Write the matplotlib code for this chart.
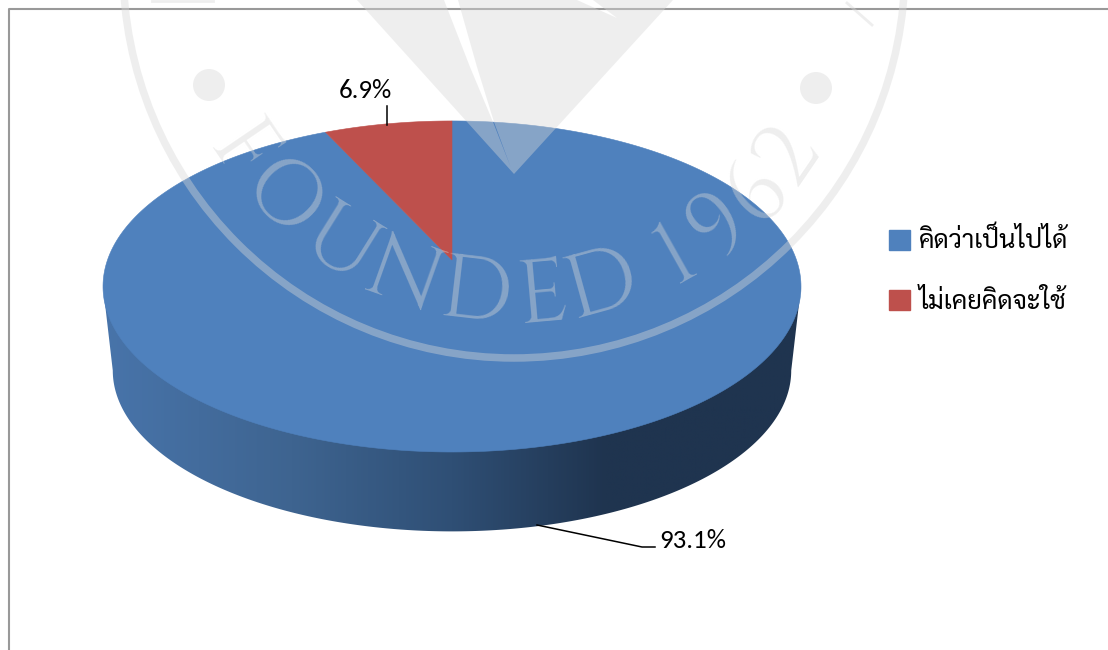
import numpy as np
import matplotlib
matplotlib.use("Agg")
import matplotlib.pyplot as plt
from matplotlib import font_manager as fm
from matplotlib.colors import LinearSegmentedColormap
from matplotlib.patches import Circle, Patch, Polygon

labels = ["คิดว่าเป็นไปได้", "ไม่เคยคิดจะใช้"]
shares = [93.1, 6.9]
colors = ["#4F81BD", "#BE504C"]
seal_letters = list("FOUNDED1962")
seal_turns = [-55.8, -45, -32, -19.6, -6.6, 5.1, 15.4, 29.3, 38.5, 47.4, 55.7]

fig = plt.figure(figsize=(11.08, 6.5), dpi=100)
ax = fig.add_axes([0, 0, 1, 1])
ax.set_xlim(0, 1108)
ax.set_ylim(650, 0)
ax.axis("off")

# Perspective view of the disc: the far half is foreshortened
CX, CY, K, A, B, C = 452, 287, 0.16, 344.5, 165.6, 27
DEPTH, SHRINK = 84, 0.972


def rim(angles, scale=1.0, drop=0.0):
    u, v = np.sin(angles), np.cos(angles)
    x = A * u / (1 + K * v)
    y = -(B * v + C) / (1 + K * v)
    return CX + scale * x, CY + drop + scale * y


# Side wall of the disc with its horizontal shading
widest = np.arccos(-K)
t = np.linspace(widest, 2 * np.pi - widest, 300)
wx, wy = rim(t, SHRINK, DEPTH)
tx, ty = rim(np.array([widest, 2 * np.pi - widest]))
wall = np.column_stack([np.r_[tx[0], wx, tx[1]], np.r_[ty[0], wy, ty[1]]])
shade = LinearSegmentedColormap.from_list(
    "wall", [(0, "#4874AA"), (0.27, "#3E6490"), (0.5, "#2F4F75"),
             (0.72, "#1F344F"), (1, "#1F344F")])
img = ax.imshow(np.linspace(0, 1, 512)[None, :], extent=[104, 801, 540, 280],
                cmap=shade, aspect="auto", zorder=1)
img.set_clip_path(Polygon(wall, closed=True, transform=ax.transData))
ax.set_xlim(0, 1108)
ax.set_ylim(650, 0)

# Top face, wedges running clockwise from twelve o'clock
edges = np.r_[0, np.cumsum(shares)] / np.sum(shares) * 2 * np.pi
for i, col in enumerate(colors):
    a = np.linspace(edges[i], edges[i + 1], 400)
    x, y = rim(a)
    ax.fill(np.r_[CX, x], np.r_[CY - C, y], fc=col, ec=col, lw=0.4, zorder=2 + i * 0.1)

# Data labels with leader lines
ax.plot([387, 387], [106, 125], color="black", lw=1.1, zorder=4)
ax.plot([537, 642, 655], [525, 547, 547], color="black", lw=1.1, zorder=4)
ax.text(365.5, 90, f"{shares[1]}%", ha="center", va="center", fontsize=19.4,
        family="Carlito", zorder=5)
ax.text(692.5, 540, f"{shares[0]}%", ha="center", va="center", fontsize=19.4,
        family="Carlito", zorder=5)

# Legend
ax.legend(handles=[Patch(color=c, label=l) for c, l in zip(colors, labels)],
          loc="upper left", bbox_to_anchor=(889 / 1108, 1 - 228 / 650),
          bbox_transform=fig.transFigure, frameon=False, handlelength=0.82,
          handleheight=0.82, handletextpad=0.35, labelspacing=1.38,
          borderpad=0, borderaxespad=0,
          prop=fm.FontProperties(family="Sarabun", weight="regular", size=18.5))

# Chart frame, open at the right and the bottom
ax.plot([8.5, 8.5, 1108], [650, 9, 9], color="#999999", lw=1.5, zorder=0.5)

# University seal laid over the chart
SEAL_RGB, SEAL_ALPHA = "#D7D7D7", 0.41
SEAL = dict(color=SEAL_RGB, alpha=SEAL_ALPHA, lw=0, zorder=6)
SX, SY = 514, -33
ax.add_patch(Circle((SX, SY), 391, fill=False, ec=SEAL_RGB, alpha=SEAL_ALPHA, lw=5.4, zorder=6))
ax.add_patch(Circle((209, 85), 16, **SEAL))
ax.add_patch(Circle((816, 88), 16, **SEAL))
ax.add_patch(Polygon(
    [(357, 0), (514, 174), (673, 0), (593, 0), (617, 18), (577, 0), (458, 0),
     (477, 67), (494, 122), (511, 168), (493, 122), (470, 67), (444, 0)],
    closed=True, **SEAL))
ax.plot([847, 872], [3, 25], color=SEAL_RGB, alpha=SEAL_ALPHA, lw=2, zorder=6)
ax.plot([152, 213], [1, 1], color=SEAL_RGB, alpha=SEAL_ALPHA, lw=2, zorder=6)
for ch, deg in zip(seal_letters, seal_turns):
    r = np.radians(deg)
    ax.text(SX + 323 * np.sin(r), SY + 323 * np.cos(r), ch, rotation=deg,
            rotation_mode="anchor", ha="center", va="center", fontsize=64,
            family="Cinzel", color=SEAL_RGB, alpha=SEAL_ALPHA, zorder=6)

fig.savefig("out.png", dpi=100)
